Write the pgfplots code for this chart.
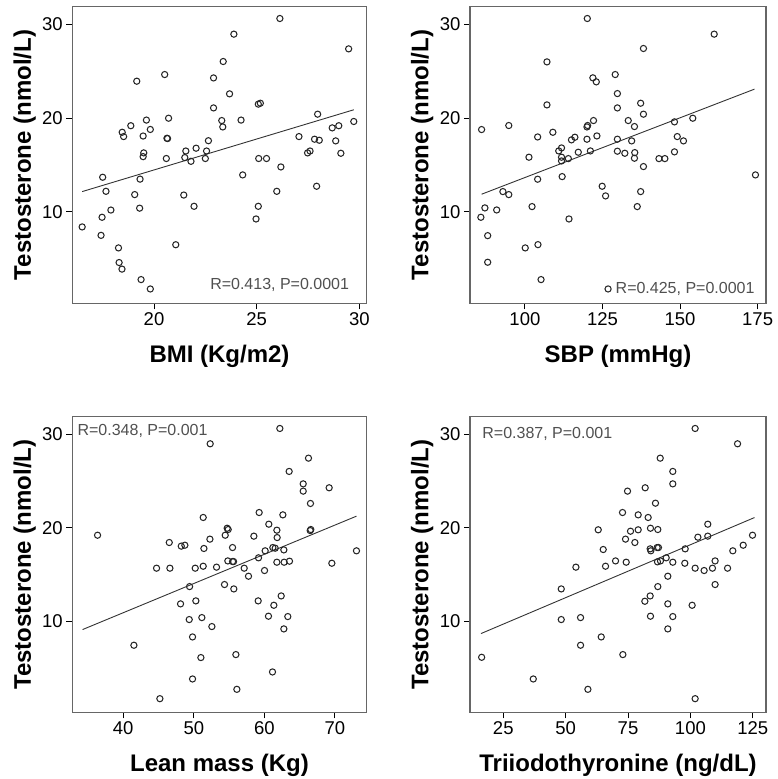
\documentclass[border=0pt]{standalone}
\usepackage{pgfplots}
\pgfplotsset{compat=1.18}
\usepackage{fontspec}
\setmainfont{Liberation Sans}

\definecolor{frame}{HTML}{666666}
\definecolor{annot}{HTML}{505050}

\pgfplotsset{
  panel/.style={
    scale only axis,
    anchor=north west,
    ymin=0.25, ymax=31.9,
    ytick={10,20,30},
    tick pos=left,
    tick align=outside,
    major tick length=6pt,
    axis line style={draw=frame, line width=1.2pt},
    tick style={draw=black, line width=1pt},
    /pgf/number format/assume math mode=true,
    ticklabel style={font=\fontsize{18.5}{20}\selectfont},
    label style={font=\bfseries\fontsize{24}{26}\selectfont},
    ylabel={Testosterone (nmol/L)},
    ylabel style={at={(axis description cs:-0.162,0.5)}, anchor=center, rotate=0},
    xlabel style={at={(axis description cs:0.5,-0.18)}, anchor=center},
  },
  pts/.style={only marks, mark=o, mark size=3.1pt,
    mark options={draw=black!85, line width=1.05pt}},
  fit/.style={no marks, draw=black!80, line width=0.9pt},
}

\begin{document}
\begin{tikzpicture}
\useasboundingbox (0,0) rectangle (778pt,779pt);

% BMI
\begin{axis}[panel, at={(72.3pt,772.3pt)}, width=294.4pt, height=296.6pt,
  xmin=16.02, xmax=30.36, xtick={20,25,30}, xlabel={BMI (Kg/m2)}]
\addplot[pts] coordinates {
(16.5,8.4) (17.5,13.7) (17.66,12.2) (17.47,9.43) (17.42,7.5) (17.9,10.2)
(18.27,6.16) (18.3,4.6) (18.44,3.9) (18.45,18.5) (18.52,18.04) (18.87,19.2)
(19.16,23.95) (19.06,11.85) (19.32,13.5) (19.3,10.4) (19.37,2.78) (19.82,1.78)
(19.47,18.1) (19.5,16.3) (19.47,15.9) (19.63,19.8) (19.82,18.8) (20.52,24.66)
(20.71,20.0) (20.63,17.86) (20.66,17.83) (20.6,15.7) (21.06,6.5) (21.45,11.8)
(21.55,16.5) (21.5,15.8) (21.8,15.4) (21.95,10.6) (22.05,16.8) (22.5,15.7)
(22.56,16.5) (22.65,17.6) (22.9,24.3) (22.9,21.1) (23.3,19.75) (23.35,19.07)
(23.37,26.05) (23.68,22.6) (23.89,28.97) (24.24,19.8) (24.32,13.95) (25.08,21.5)
(25.18,21.6) (24.97,9.25) (25.08,10.6) (25.1,15.7) (25.48,15.7) (25.98,12.2)
(26.13,30.64) (26.18,14.8) (27.06,18.04) (27.48,16.3) (27.6,16.5) (27.82,17.76)
(27.97,20.43) (27.92,12.74) (28.05,17.65) (28.68,18.97) (28.85,17.58) (29.0,19.2)
(29.1,16.26) (29.48,27.4) (29.73,19.65)
};
\addplot[fit] coordinates {(16.5,12.17) (29.73,20.9)};
\node[anchor=east, text=annot, font=\fontsize{16}{18}\selectfont]
  at (axis description cs:0.952,0.062) {R=0.413, P=0.0001};
\end{axis}

% SBP
\begin{axis}[panel, at={(470pt,772.3pt)}, width=296pt, height=296.6pt,
  xmin=82.3, xmax=177.7, xtick={100,125,150,175}, xlabel={SBP (mmHg)}]
\addplot[pts] coordinates {
(86.04,18.79) (85.8,9.43) (87.1,10.43) (88.0,7.47) (88.0,4.63) (90.9,10.21)
(92.9,12.17) (94.8,11.85) (94.8,19.22) (100.1,6.16) (101.3,15.84) (102.3,10.57)
(104.1,18.0) (104.1,13.49) (104.2,6.51) (105.2,2.78) (107.1,26.01) (107.1,21.42)
(109.0,18.5) (110.9,16.51) (111.8,16.83) (111.8,15.84) (112.0,13.77) (111.8,15.44)
(114.0,15.69) (114.2,9.25) (115.0,17.69) (116.1,17.97) (117.2,16.37) (120.0,19.07)
(120.2,19.22) (120.0,17.76) (120.1,30.64) (121.1,16.51) (121.9,24.31) (122.1,19.75)
(123.0,23.88) (123.2,18.11) (124.9,12.74) (126.0,11.71) (126.8,1.78) (129.1,24.66)
(129.8,22.63) (129.8,21.10) (129.8,17.76) (129.8,16.48) (132.2,16.26) (133.3,19.75)
(134.4,17.58) (135.3,19.11) (135.4,16.33) (135.3,15.73) (136.2,10.57) (137.3,21.6)
(137.3,12.17) (138.2,27.44) (138.2,20.43) (138.2,14.84) (143.2,15.69) (145.1,15.69)
(148.2,16.41) (148.2,19.61) (149.1,18.04) (151.1,17.58) (154.1,20.0) (161.0,28.97)
(174.3,13.95)
};
\addplot[fit] coordinates {(86.04,11.89) (173.97,23.1)};
\node[anchor=east, text=annot, font=\fontsize{16}{18}\selectfont]
  at (axis description cs:0.973,0.05) {R=0.425, P=0.0001};
\end{axis}

% Lean mass
\begin{axis}[panel, at={(72.3pt,362.3pt)}, width=294.4pt, height=295.6pt,
  xmin=32.78, xmax=74.5, xtick={40,50,60,70}, xlabel={Lean mass (Kg)}]
\addplot[pts] coordinates {
(36.36,19.21) (41.51,7.43) (45.19,1.71) (44.72,15.68) (46.61,15.68) (46.52,18.43)
(48.12,11.86) (48.22,18.04) (48.73,18.14) (49.40,13.71) (49.35,10.18) (49.82,8.32)
(49.82,3.82) (50.20,15.68) (50.29,12.18) (51.00,6.11) (51.14,10.39) (51.33,21.11)
(51.33,15.89) (51.43,17.79) (52.28,18.79) (52.32,29.0) (52.56,9.43) (53.22,15.79)
(54.35,13.93) (54.45,19.21) (54.73,19.96) (54.87,19.82) (54.82,16.46) (55.49,17.89)
(55.49,16.39) (55.63,16.39) (55.67,13.46) (55.96,6.43) (56.10,2.71) (57.14,15.68)
(57.75,14.82) (58.51,19.11) (59.12,12.18) (59.26,21.64) (59.17,16.79) (60.02,15.43)
(60.11,17.54) (60.58,10.54) (60.63,20.39) (61.15,4.57) (61.20,17.89) (61.34,11.71)
(61.53,17.82) (61.77,19.75) (61.81,18.96) (61.77,16.32) (62.19,30.64) (62.38,12.71)
(62.62,21.39) (62.76,17.64) (62.76,9.18) (62.80,16.32) (63.51,26.04) (63.32,10.5)
(63.56,16.43) (65.50,24.71) (65.50,23.93) (66.25,27.46) (66.53,22.61) (66.49,19.71)
(66.58,19.82) (69.18,24.29) (69.56,16.21) (73.05,17.54)
};
\addplot[fit] coordinates {(34.24,9.11) (73.05,21.25)};
\node[anchor=west, text=annot, font=\fontsize{16}{18}\selectfont]
  at (axis description cs:0.006,0.953) {R=0.348, P=0.001};
\end{axis}

% Triiodothyronine
\begin{axis}[panel, at={(470pt,362.3pt)}, width=296pt, height=295.6pt,
  xmin=11.67, xmax=130.3, xtick={25,50,75,100,125}, xlabel={Triiodothyronine (ng/dL)}]
\addplot[pts] coordinates {
(16.34,6.14) (37.03,3.82) (48.24,13.46) (48.24,10.18) (54.11,15.79) (55.98,10.39)
(55.98,7.43) (58.92,2.71) (63.06,19.79) (64.26,8.32) (65.06,17.68) (65.99,15.89)
(70.0,16.46) (72.8,21.64) (72.93,6.43) (74.27,16.32) (74.0,18.79) (74.8,23.93)
(76.0,19.64) (77.74,18.43) (79.07,21.39) (79.07,19.79) (81.88,24.29) (81.74,12.14)
(83.07,21.11) (83.87,12.71) (84.0,10.54) (84.0,19.96) (83.87,17.75) (84.14,17.54)
(86.0,22.64) (86.67,17.89) (86.94,19.82) (86.94,13.71) (86.8,16.36) (87.2,17.89)
(87.9,27.46) (88.0,16.46) (90.3,16.79) (90.95,14.82) (90.95,11.86) (90.95,9.18)
(92.95,26.04) (92.95,24.71) (92.95,16.32) (92.95,10.5) (97.9,17.75) (97.76,16.21)
(100.7,11.71) (101.9,30.64) (101.9,15.68) (101.9,1.71) (103.0,19.0) (105.5,15.43)
(106.97,20.39) (106.97,19.11) (108.84,15.68) (109.9,16.46) (109.9,13.93) (114.9,15.68)
(117.0,17.54) (118.9,29.0) (121.16,18.14) (124.9,19.21)
};
\addplot[fit] coordinates {(16.07,8.68) (125.68,21.1)};
\node[anchor=west, text=annot, font=\fontsize{16}{18}\selectfont]
  at (axis description cs:0.030,0.941) {R=0.387, P=0.001};
\end{axis}
\end{tikzpicture}
\end{document}
